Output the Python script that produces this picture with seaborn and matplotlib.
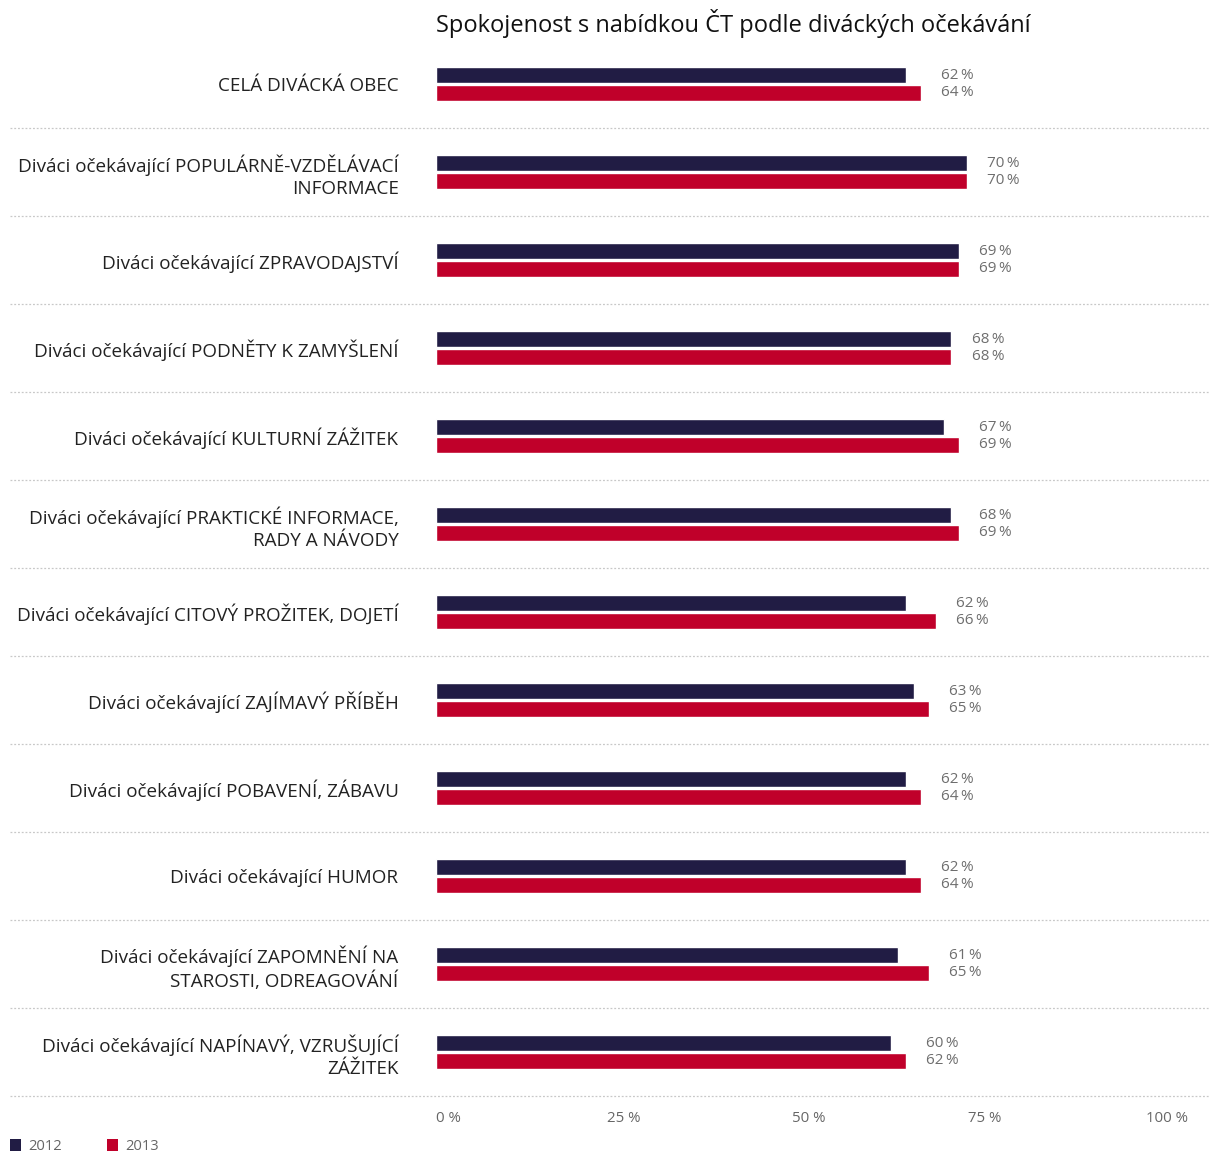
import matplotlib
matplotlib.use("Agg")
import matplotlib.pyplot as plt
import seaborn as sns
import pandas as pd
from matplotlib.patches import Patch

categories = [
    "CELÁ DIVÁCKÁ OBEC",
    "Diváci očekávající POPULÁRNĚ-VZDĚLÁVACÍ\nINFORMACE",
    "Diváci očekávající ZPRAVODAJSTVÍ",
    "Diváci očekávající PODNĚTY K ZAMYŠLENÍ",
    "Diváci očekávající KULTURNÍ ZÁŽITEK",
    "Diváci očekávající PRAKTICKÉ INFORMACE,\nRADY A NÁVODY",
    "Diváci očekávající CITOVÝ PROŽITEK, DOJETÍ",
    "Diváci očekávající ZAJÍMAVÝ PŘÍBĚH",
    "Diváci očekávající POBAVENÍ, ZÁBAVU",
    "Diváci očekávající HUMOR",
    "Diváci očekávající ZAPOMNĚNÍ NA\nSTAROSTI, ODREAGOVÁNÍ",
    "Diváci očekávající NAPÍNAVÝ, VZRUŠUJÍCÍ\nZÁŽITEK",
]
values_2012 = [62, 70, 69, 68, 67, 68, 62, 63, 62, 62, 61, 60]
values_2013 = [64, 70, 69, 68, 69, 69, 66, 65, 64, 64, 65, 62]
series = ["2012", "2013"]
colors = ["#211C44", "#C0002A"]
tick_labels = ["0 %", "25 %", "50 %", "75 %", "100 %"]
title = "Spokojenost s nabídkou ČT podle diváckých očekávání"

sns.set_theme(style="white")
plt.rcParams["font.family"] = ["Open Sans", "DejaVu Sans"]

df = pd.DataFrame({
    "cat": categories * 2,
    "year": [series[0]] * len(categories) + [series[1]] * len(categories),
    "val": values_2012 + values_2013,
})

W, H = 1209, 1153
fig = plt.figure(figsize=(W / 100, H / 100), dpi=100)
ax_l, ax_r, ax_t, ax_b = 436, 1194, 40, 1096
ax = fig.add_axes([ax_l / W, 1 - ax_b / H, (ax_r - ax_l) / W, (ax_b - ax_t) / H])

sns.barplot(data=df, y="cat", x="val", hue="year", order=categories,
            hue_order=series, palette=colors, orient="h", width=0.40,
            gap=0.11, ax=ax, legend=False, saturation=1)

ax.set_xlim(0, 100)
ax.set_ylim(len(categories) - 0.5, -0.5)
for s in ax.spines.values():
    s.set_visible(False)
ax.set_xlabel("")
ax.set_ylabel("")
ax.tick_params(axis="both", length=0)
ax.set_yticks(range(len(categories)))
ax.set_yticklabels(categories, fontsize=13.6, color="#222222",
                   linespacing=1.3)
ax.tick_params(axis="y", pad=27)
# tick labels spread as in the reference
tick_pos = [1.7, 24.8, 49.2, 72.4, 96.4]
ax.set_xticks(tick_pos)
ax.set_xticklabels(tick_labels, fontsize=10.8, color="#666666")
ax.tick_params(axis="x", pad=11)

# separators
xmin = (10 - ax_l) / (ax_r - ax_l)
xmax = (1209 - ax_l) / (ax_r - ax_l)
for i in range(len(categories)):
    ax.axhline(i + 0.5, xmin=xmin, xmax=xmax, color="#c8c8c8", lw=0.9,
               ls=(0, (1.5, 1.5)), clip_on=False)

# value labels
off = 17.5 / 2 / 88
for i, (a, b) in enumerate(zip(values_2012, values_2013)):
    xm = max(a, b) + 4.8
    ax.text(xm, i - off, f"{a}\u2009%", ha="center", va="center",
            fontsize=11, color="#6e6e6e")
    ax.text(xm, i + off, f"{b}\u2009%", ha="center", va="center",
            fontsize=11, color="#6e6e6e")

fig.text(ax_l / W, 1 - 24 / H, title, ha="left", va="center",
         fontsize=17, color="#111111")

handles = [Patch(facecolor=c, edgecolor="none", label=s) for s, c in zip(series, colors)]
leg = fig.legend(handles=handles, loc="lower left", bbox_to_anchor=(0.0, -0.01),
                 ncol=2, frameon=False, fontsize=10.6, handlelength=0.75,
                 handleheight=0.9, handletextpad=0.5, columnspacing=3.0,
                 borderaxespad=0.3)
for t in leg.get_texts():
    t.set_color("#666666")

fig.savefig("out.png", dpi=100)
